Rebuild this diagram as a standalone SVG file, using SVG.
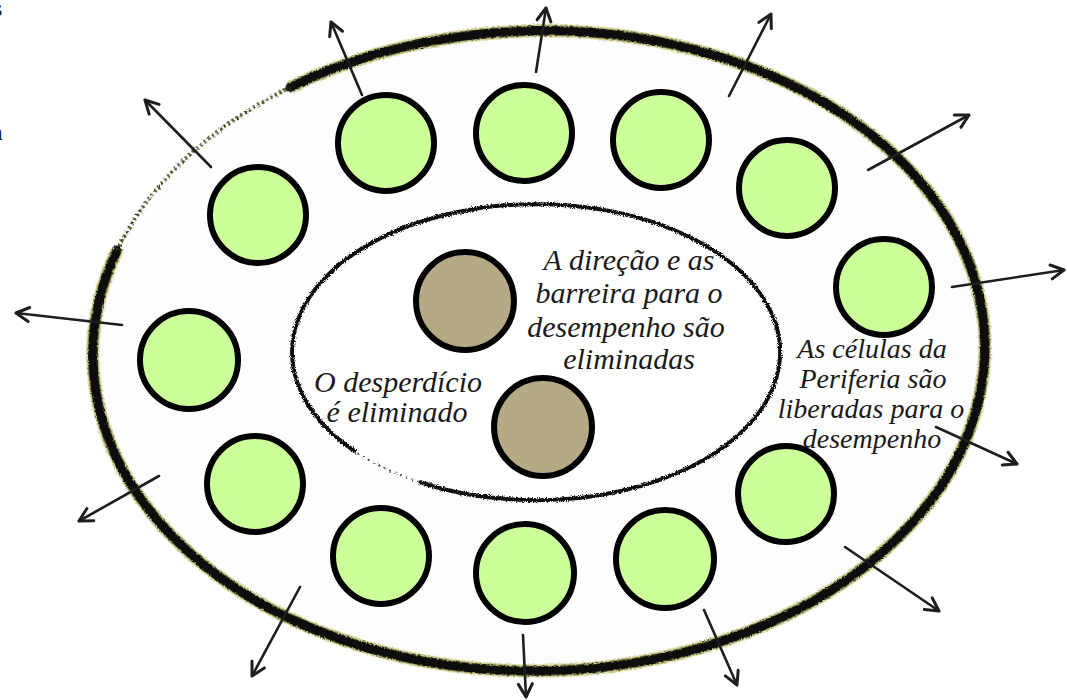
<svg xmlns="http://www.w3.org/2000/svg" width="1067" height="700" viewBox="0 0 1067 700">
<style>
.lbl{font-family:"Liberation Serif","Times New Roman",serif;font-style:italic;font-size:30px;fill:#1a1a1a;text-anchor:middle}
.lbl2{font-family:"Liberation Serif","Times New Roman",serif;font-style:italic;font-size:28px;fill:#1a1a1a;text-anchor:middle}
.frag{font-family:"Liberation Serif","Times New Roman",serif;font-size:24px;fill:#111}
.cell{fill:#ccff99;stroke:#000;stroke-width:6}
.core{fill:#b5aa84;stroke:#000;stroke-width:6}
.arrow{stroke:#1e1e1e;stroke-width:2.6;fill:none;stroke-linecap:round;marker-end:url(#head)}
</style>
<defs>
<filter id="rough" x="-5%" y="-5%" width="110%" height="110%">
<feTurbulence type="fractalNoise" baseFrequency="0.9" numOctaves="2" seed="3" result="n"/>
<feDisplacementMap in="SourceGraphic" in2="n" scale="4" xChannelSelector="R" yChannelSelector="G"/>
</filter>
<marker id="head" markerUnits="userSpaceOnUse" markerWidth="24" markerHeight="24" viewBox="-18 -12 24 24" refX="0" refY="0" orient="auto">
<path d="M-13,-7 L0,0 L-13,7" fill="none" stroke="#1e1e1e" stroke-width="3" stroke-linecap="round" stroke-linejoin="round"/>
</marker>
</defs>
<rect width="1067" height="700" fill="#fff"/>
<text class="frag" x="-7" y="16">s</text>
<text class="frag" x="-8" y="140">a</text>

<g id="outer-ellipse" transform="rotate(-1 538 352)">
<ellipse cx="538" cy="352" rx="446" ry="320" fill="#fdfdfd"/>
<g filter="url(#rough)">
<path d="M 295,83 A 446 320 0 1 1 119,243" fill="none" stroke="#9c9c18" stroke-width="13" opacity="0.5"/>
<path d="M 295,83 A 446 320 0 1 1 119,243" fill="none" stroke="#0a0a0a" stroke-width="9.5" stroke-linecap="round"/>
<path d="M 119,243 A 446 320 0 0 1 295,83" fill="none" stroke="#3a3a10" stroke-width="4" stroke-dasharray="2 3"/>
</g>
</g>

<g id="inner-ellipse">
<ellipse cx="537" cy="353" rx="244" ry="148" fill="#fff"/>
<g filter="url(#rough)">
<path d="M 356,452 A 244 148 0 1 1 419,482" fill="none" stroke="#111" stroke-width="4"/>
<path d="M 419,482 A 244 148 0 0 1 356,452" fill="none" stroke="#555" stroke-width="2" stroke-dasharray="2 4"/>
</g>
</g>

<g id="connectors">
<line class="arrow" x1="362" y1="95" x2="331" y2="22"/>
<line class="arrow" x1="536" y1="72" x2="546" y2="8"/>
<line class="arrow" x1="729" y1="96" x2="771" y2="14"/>
<line class="arrow" x1="868" y1="170" x2="969" y2="115"/>
<line class="arrow" x1="952" y1="287" x2="1064" y2="270"/>
<line class="arrow" x1="936" y1="427" x2="1017" y2="464"/>
<line class="arrow" x1="845" y1="547" x2="939" y2="611"/>
<line class="arrow" x1="704" y1="610" x2="737" y2="685"/>
<line class="arrow" x1="523" y1="635" x2="526" y2="697"/>
<line class="arrow" x1="300" y1="587" x2="252" y2="676"/>
<line class="arrow" x1="159" y1="476" x2="79" y2="521"/>
<line class="arrow" x1="122" y1="325" x2="16" y2="313"/>
<line class="arrow" x1="211" y1="167" x2="145" y2="100"/>
</g>

<g id="cell-1"><circle class="cell" cx="386" cy="143" r="48"/></g>
<g id="cell-2"><circle class="cell" cx="524" cy="133" r="48"/></g>
<g id="cell-3"><circle class="cell" cx="661" cy="140" r="48"/></g>
<g id="cell-4"><circle class="cell" cx="787" cy="188" r="48"/></g>
<g id="cell-5"><circle class="cell" cx="884" cy="287" r="48"/></g>
<g id="cell-6"><circle class="cell" cx="258" cy="215" r="48"/></g>
<g id="cell-7"><circle class="cell" cx="189" cy="360" r="49"/></g>
<g id="cell-8"><circle class="cell" cx="255" cy="484" r="48"/></g>
<g id="cell-9"><circle class="cell" cx="381" cy="556" r="48"/></g>
<g id="cell-10"><circle class="cell" cx="525" cy="573" r="49"/></g>
<g id="cell-11"><circle class="cell" cx="665" cy="559" r="49"/></g>
<g id="cell-12"><circle class="cell" cx="786" cy="494" r="48"/></g>

<g id="core-1"><circle class="core" cx="465" cy="301" r="49"/></g>
<g id="core-2"><circle class="core" cx="543" cy="427" r="49"/></g>

<g id="label-direcao">
<text class="lbl" x="629" y="270">A direção e as</text>
<text class="lbl" x="629" y="303">barreira para o</text>
<text class="lbl" x="626" y="337">desempenho são</text>
<text class="lbl" x="629" y="369">eliminadas</text>
</g>
<g id="label-desperdicio">
<text class="lbl" x="398" y="392">O desperdício</text>
<text class="lbl" x="397" y="422">é eliminado</text>
</g>
<g id="label-periferia">
<text class="lbl2" x="872" y="358">As células da</text>
<text class="lbl2" x="873" y="388">Periferia são</text>
<text class="lbl2" x="871" y="418">liberadas para o</text>
<text class="lbl2" x="872" y="448">desempenho</text>
</g>
</svg>
